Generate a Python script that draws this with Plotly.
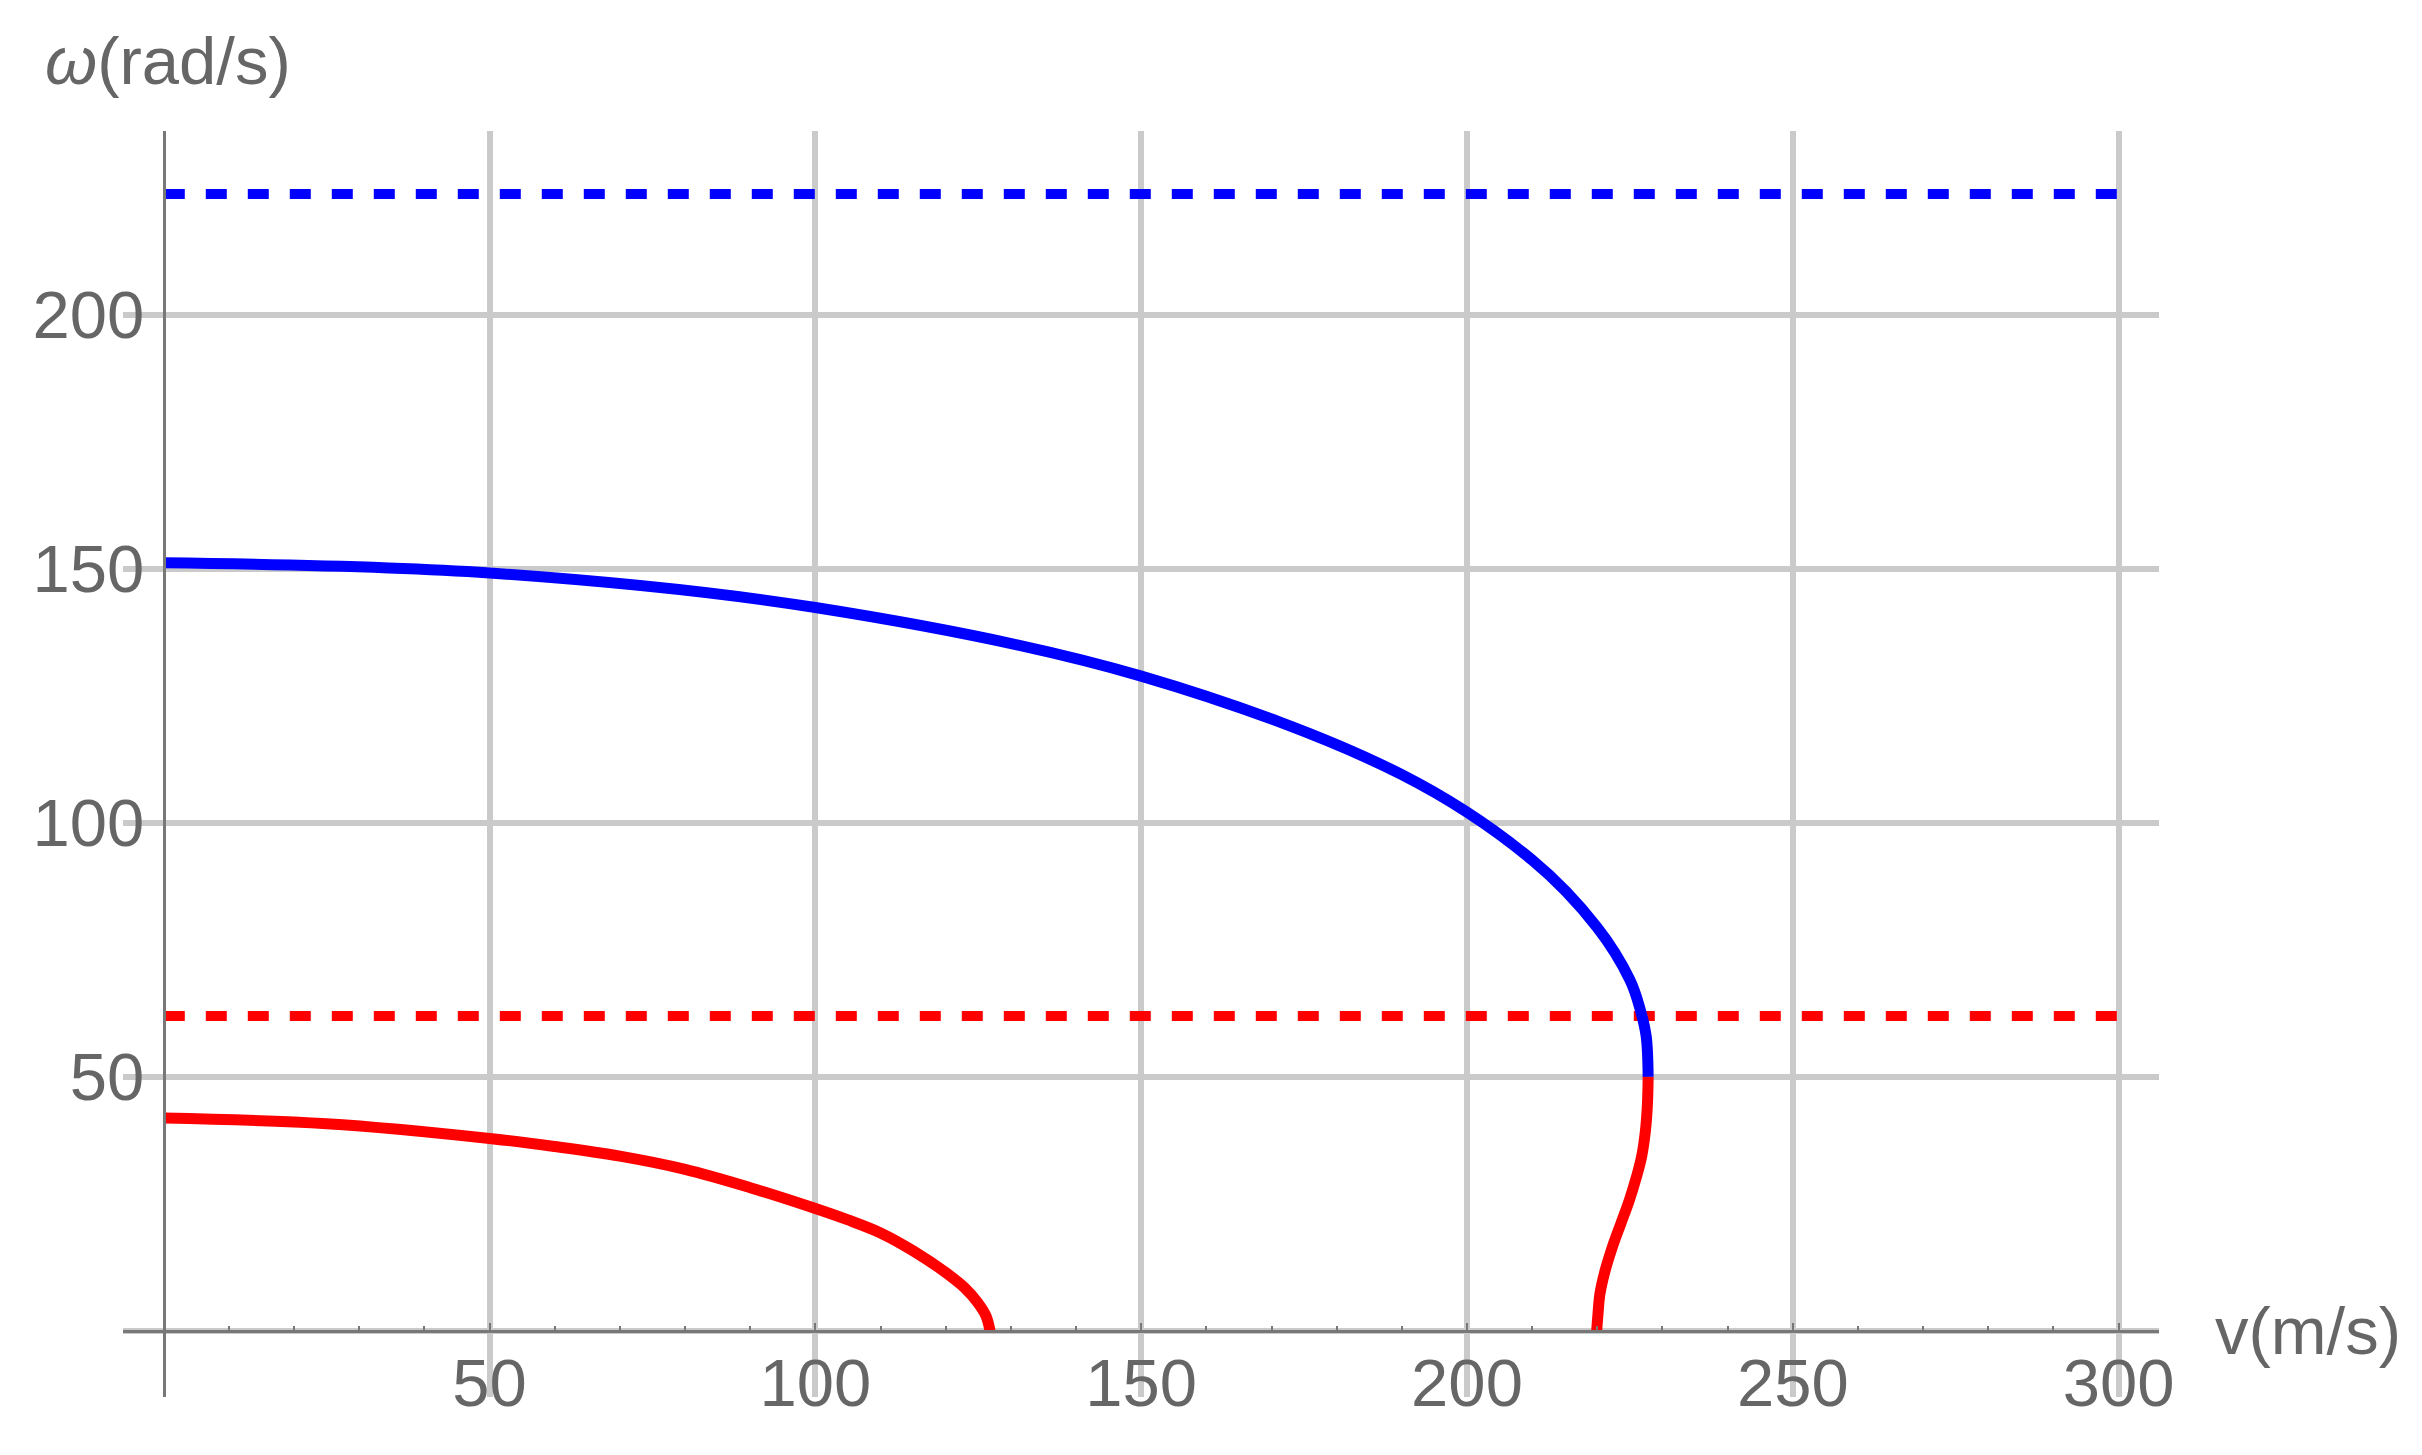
import plotly.graph_objects as go

# upper branch (blue)
blue_v = [0, 50, 100, 150, 190, 210, 220, 225.0, 226.6, 227.5, 227.8]
blue_w = [151.2, 149.2, 142.4, 128.9, 109.5, 92.7, 79.4, 69.1, 63.2, 58.0, 50.0]

# lower branch (red), starting at v=0
red1_v = [0, 25, 50, 60, 70, 80, 90, 100, 104.9, 110, 115.1, 120, 122.9, 124.9, 126.2, 126.8]
red1_w = [41.9, 40.8, 37.9, 36.3, 34.4, 31.8, 28.2, 24.1, 21.9, 19.3, 15.7, 11.5, 8.5, 5.6, 2.9, 0]

# red piece continuing the blue curve down to the v axis
red2_v = [227.8, 227.7, 227.4, 226.8, 226.0, 224.9, 223.6, 222.3, 221.2, 220.4, 220.1, 219.9]
red2_w = [50, 44.9, 39.6, 34.3, 30.3, 25.7, 21.1, 16.5, 11.9, 7.3, 3.3, 0]

# horizontal dashed levels
dash_v = [0, 300]
blue_level = 223.8
red_level = 62.0

x_ticks = [50, 100, 150, 200, 250, 300]
y_ticks = [50, 100, 150, 200]

x_range = [-6.26, 306.2]
y_range = [-13.0, 236.2]

BLUE = '#0000FF'
RED = '#FF0000'
TXT = '#666666'
AXIS = '#777777'
GRID = '#cacaca'
FONT = 'Liberation Sans, Arial, sans-serif'
FS = 67

fig = go.Figure()

dash = '21px,21px'
fig.add_trace(go.Scatter(x=dash_v, y=[blue_level] * 2, mode='lines',
                         line=dict(color=BLUE, width=10, dash=dash)))
fig.add_trace(go.Scatter(x=dash_v, y=[red_level] * 2, mode='lines',
                         line=dict(color=RED, width=10, dash=dash)))
curve = dict(width=11, shape='spline', smoothing=1.0)
fig.add_trace(go.Scatter(x=blue_v, y=blue_w, mode='lines', line=dict(color=BLUE, **curve)))
fig.add_trace(go.Scatter(x=red1_v, y=red1_w, mode='lines', line=dict(color=RED, **curve)))
fig.add_trace(go.Scatter(x=red2_v, y=red2_w, mode='lines', line=dict(color=RED, **curve)))


def px(v):
    return (v - x_range[0]) / (x_range[1] - x_range[0])


def py(w):
    return (w - y_range[0]) / (y_range[1] - y_range[0])


fig.update_layout(
    width=2422, height=1455,
    margin=dict(l=115, r=271, t=123, b=66),
    paper_bgcolor='white', plot_bgcolor='white',
    showlegend=False,
    font=dict(family=FONT, size=FS, color=TXT),
    xaxis=dict(
        range=x_range, tickvals=x_ticks, showgrid=True, gridcolor=GRID, gridwidth=6,
        zeroline=False, showline=True, linecolor=AXIS, linewidth=3,
        anchor='free', position=py(0),
        ticks='inside', ticklen=7, tickwidth=2, tickcolor=AXIS,
        ticklabelstandoff=-7,
        minor=dict(dtick=10, ticks='inside', ticklen=4, tickwidth=1.5,
                   tickcolor=AXIS, showgrid=False),
        tickfont=dict(size=FS, color=TXT),
    ),
    yaxis=dict(
        range=y_range, tickvals=y_ticks, showgrid=True, gridcolor=GRID, gridwidth=6,
        zeroline=False, showline=True, linecolor=AXIS, linewidth=3,
        anchor='free', position=px(0),
        ticks='', ticklabelstandoff=5,
        tickfont=dict(size=FS, color=TXT),
    ),
    annotations=[
        dict(x=px(-18.5), y=py(250), xref='paper', yref='paper', text='<i>ω</i>(rad/s)',
             showarrow=False, xanchor='left', yanchor='middle',
             font=dict(size=FS, color=TXT)),
        dict(x=px(314.5), y=py(0), xref='paper', yref='paper', text='v(m/s)',
             showarrow=False, xanchor='left', yanchor='middle',
             font=dict(size=FS, color=TXT)),
    ],
)

# gridline at w=0 under the axis line
fig.add_hline(y=0, line=dict(color=GRID, width=6), layer='below')

fig.write_html('out.html')
